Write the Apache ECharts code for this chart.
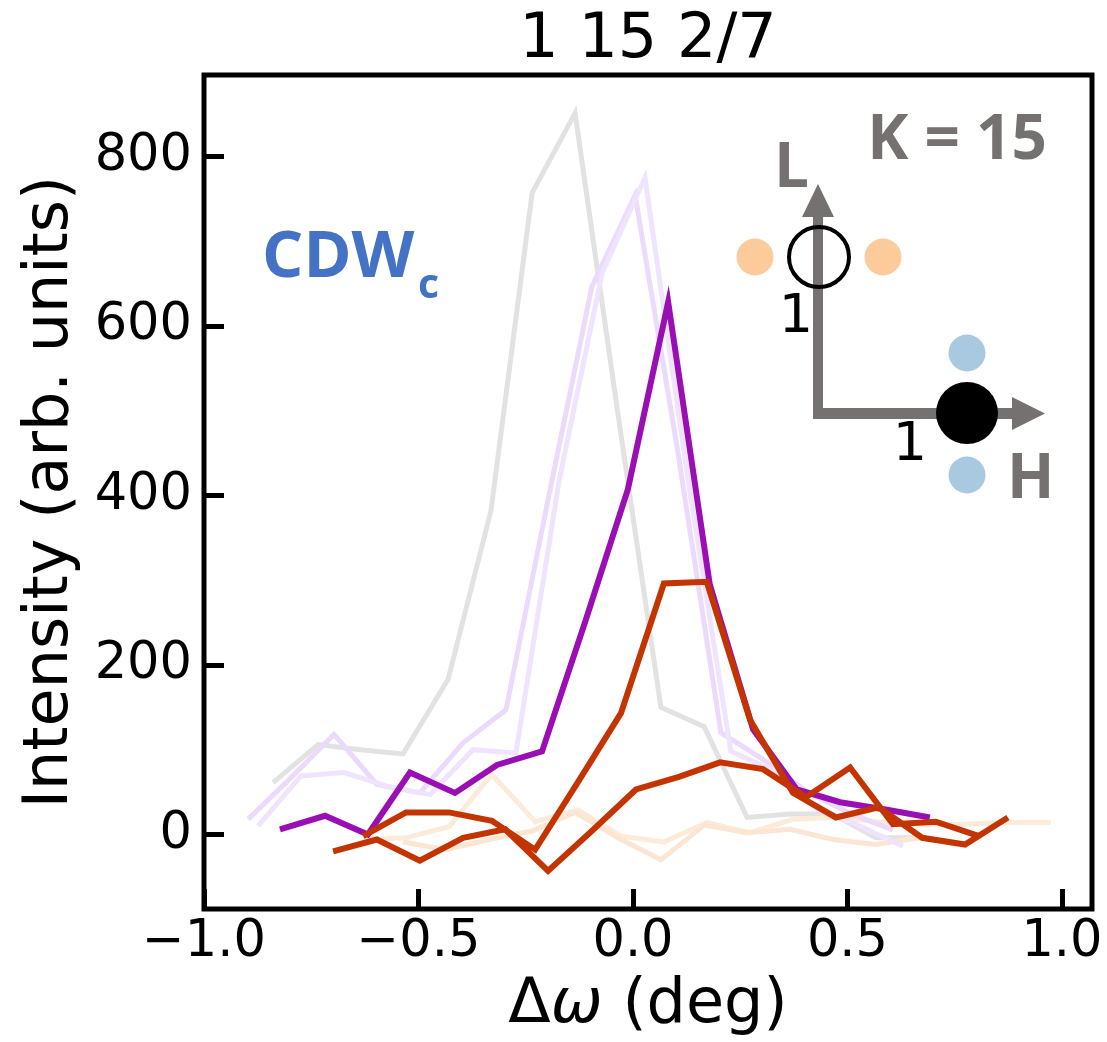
<!DOCTYPE html>
<html>
<head>
<meta charset="utf-8">
<script src="https://cdn.jsdelivr.net/npm/echarts@6/dist/echarts.min.js"></script>
<style>html,body{margin:0;padding:0;background:#fff;}#c{width:1107px;height:1042px;}</style>
</head>
<body>
<div id="c"></div>
<script>
// ---- data ----
const xTicks = [-1.0, -0.5, 0.0, 0.5, 1.0];
const yTicks = [0, 200, 400, 600, 800];

const grayX = [-0.839,-0.734,-0.636,-0.536,-0.431,-0.331,-0.235,-0.135,-0.035,0.065,0.166,0.266,0.366,0.466,0.566,0.667];
const grayY = [61,106,100,95,183,382,757,851,496,150,127,20,24,24,-4,-4];

const lightPurple1X = [-0.897,-0.797,-0.697,-0.597,-0.497,-0.396,-0.296,-0.196,-0.096,0.005,0.105,0.205,0.305,0.406,0.506,0.606];
const lightPurple1Y = [18,67,118,59,49,108,147,400,646,754,450,120,88,50,25,5];

const lightPurple2X = [-0.874,-0.774,-0.674,-0.573,-0.473,-0.373,-0.273,-0.172,-0.072,0.028,0.128,0.228,0.329,0.429,0.529,0.629];
const lightPurple2Y = [10,69,73,57,47,100,96,418,662,775,420,98,75,30,10,-14];

const purpleX = [-0.823,-0.718,-0.618,-0.520,-0.415,-0.317,-0.212,-0.112,-0.012,0.082,0.179,0.280,0.382,0.483,0.592,0.692];
const purpleY = [6,22,0,73,49,82,98,250,407,628,295,124,53,38,29,20];

const orangeAX = [-0.629,-0.529,-0.429,-0.329,-0.228,-0.128,-0.028,0.072,0.172,0.273,0.373,0.473,0.573,0.674,0.774,0.874];
const orangeAY = [-2,26,26,16,-18,62,143,296,298,135,49,20,32,-4,-12,20];

const orangeBX = [-0.699,-0.597,-0.497,-0.396,-0.298,-0.198,-0.096,0.007,0.107,0.203,0.303,0.403,0.506,0.606,0.706,0.807];
const orangeBY = [-20,-6,-31,-4,6,-43,4,53,68,85,77,44,79,12,15,-2];

const lightOrange1X = [-0.629,-0.529,-0.429,-0.329,-0.228,-0.128,-0.028,0.072,0.172,0.273,0.373,0.473,0.573,0.674,0.774,0.874,0.974];
const lightOrange1Y = [-6,-4,9,71,15,29,-2,-9,14,2,18,20,15,11,12,14,14];

const lightOrange2X = [-0.536,-0.436,-0.336,-0.235,-0.135,-0.035,0.065,0.166,0.266,0.366,0.466,0.566,0.667];
const lightOrange2Y = [-9,-18,-6,4,26,-4,-30,11,2,6,-6,-12,-4];

// ---- build ----
function pts(xs, ys){ return xs.map((x,i)=>[x, ys[i]]); }
function line(name, xs, ys, color, width, z){
  return { name, type:'line', data: pts(xs,ys), showSymbol:false, symbol:'none',
    lineStyle:{ color, width, join:'miter' }, z, silent:true, animation:false };
}
const FONT = 'DejaVu Sans';
const GRAY = '#767171';
const chart = echarts.init(document.getElementById('c'), null, {renderer:'canvas'});
chart.setOption({
  animation:false,
  backgroundColor:'#fff',
  grid:{ left:204, top:75, right:15, bottom:132, show:true, borderColor:'#000', borderWidth:5, backgroundColor:'transparent', z:10 },
  xAxis:{ type:'value', min:-1.0, max:1.07,
    name:'{a|\u0394}{b|\u03c9}{a| (deg)}', nameLocation:'middle', nameGap:66,
    nameTextStyle:{ fontFamily:FONT, fontSize:62, color:'#000',
      rich:{ a:{ fontFamily:FONT, fontSize:62, color:'#000' }, b:{ fontFamily:FONT, fontSize:62, fontStyle:'italic', color:'#000' } } },
    axisLine:{ show:false, onZero:false }, splitLine:{ show:false },
    axisTick:{ show:true, inside:true, length:20, lineStyle:{ color:'#000', width:5 }, customValues: xTicks },
    axisLabel:{ fontFamily:FONT, fontSize:51, color:'#000', margin:8, customValues: xTicks,
      formatter: v => (v<0?'\u2212':'') + Math.abs(v).toFixed(1) }
  },
  yAxis:{ type:'value', min:-88, max:896,
    name:'Intensity (arb. units)', nameLocation:'middle', nameGap:122,
    nameTextStyle:{ fontFamily:FONT, fontSize:62, color:'#000' },
    axisLine:{ show:false, onZero:false }, splitLine:{ show:false },
    axisTick:{ show:true, inside:true, length:20, lineStyle:{ color:'#000', width:5 }, customValues: yTicks },
    axisLabel:{ fontFamily:FONT, fontSize:51, color:'#000', margin:12, customValues: yTicks,
      formatter: v => String(v) }
  },
  series:[
    line('gray', grayX, grayY, '#e2e2e2', 5, 1),
    line('lo1', lightOrange1X, lightOrange1Y, '#fcebd9', 5, 2),
    line('lo2', lightOrange2X, lightOrange2Y, '#fbe6d4', 5, 2),
    line('lp1', lightPurple1X, lightPurple1Y, '#ebdafc', 5, 3),
    line('lp2', lightPurple2X, lightPurple2Y, '#f0e3fd', 5, 3),
    line('purple', purpleX, purpleY, '#9a0fb4', 6, 5),
    line('orangeB', orangeBX, orangeBY, '#c33400', 6, 6),
    line('orangeA', orangeAX, orangeAY, '#c43400', 6, 6)
  ],
  graphic:[
    { type:'text', x:648, y:41, z:20, style:{ text:'1 15 2/7', fontFamily:FONT, fontSize:62, fill:'#000', align:'center', verticalAlign:'middle' } },
    { type:'text', x:262, y:258, z:20, style:{ text:'CDW', fontFamily:'Open Sans', fontWeight:'bold', fontSize:65, fill:'#4472c4', align:'left', verticalAlign:'middle' } },
    { type:'text', x:418, y:286, z:20, style:{ text:'c', fontFamily:'Open Sans', fontWeight:'bold', fontSize:41, fill:'#4472c4', align:'left', verticalAlign:'middle' } },
    { type:'text', x:1047, y:141, z:20, style:{ text:'K = 15', fontFamily:'Open Sans', fontWeight:'bold', fontSize:62, fill:GRAY, align:'right', verticalAlign:'middle' } },
    { type:'text', x:774, y:169, z:20, style:{ text:'L', fontFamily:'Open Sans', fontWeight:'bold', fontSize:62, fill:GRAY, align:'left', verticalAlign:'middle' } },
    { type:'text', x:1007, y:480, z:20, style:{ text:'H', fontFamily:'Open Sans', fontWeight:'bold', fontSize:62, fill:GRAY, align:'left', verticalAlign:'middle' } },
    { type:'text', x:796, y:318, z:20, style:{ text:'1', fontFamily:FONT, fontSize:54, fill:'#000', align:'center', verticalAlign:'middle' } },
    { type:'text', x:910, y:446, z:20, style:{ text:'1', fontFamily:FONT, fontSize:54, fill:'#000', align:'center', verticalAlign:'middle' } },
    // inset axes
    { type:'rect', z:15, shape:{ x:813, y:214, width:10, height:205 }, style:{ fill:GRAY } },
    { type:'rect', z:15, shape:{ x:813, y:408, width:202, height:11 }, style:{ fill:GRAY } },
    { type:'polygon', z:15, shape:{ points:[[802,217],[834,217],[818,184]] }, style:{ fill:GRAY } },
    { type:'polygon', z:15, shape:{ points:[[1012,397],[1012,430],[1045,413.5]] }, style:{ fill:GRAY } },
    // inset dots
    { type:'circle', z:16, shape:{ cx:755, cy:257, r:18.5 }, style:{ fill:'#fdca9c' } },
    { type:'circle', z:16, shape:{ cx:883, cy:257, r:18.5 }, style:{ fill:'#fdca9c' } },
    { type:'circle', z:16, shape:{ cx:819, cy:257, r:30 }, style:{ fill:'none', stroke:'#000', lineWidth:4 } },
    { type:'circle', z:16, shape:{ cx:967, cy:353, r:18.5 }, style:{ fill:'#a9c9e1' } },
    { type:'circle', z:16, shape:{ cx:967, cy:475, r:18.5 }, style:{ fill:'#a9c9e1' } },
    { type:'circle', z:16, shape:{ cx:967, cy:413, r:31 }, style:{ fill:'#000' } }
  ]
});
</script>
</body>
</html>
